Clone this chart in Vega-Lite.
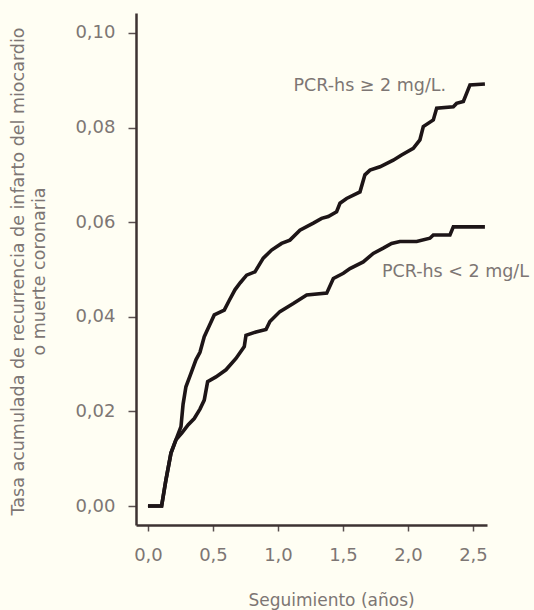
{
  "$schema": "https://vega.github.io/schema/vega-lite/v6.json",
  "description": "Tasa acumulada de recurrencia segun PCR-hs",
  "width": 351,
  "height": 512,
  "autosize": {"type": "none"},
  "padding": {"left": 136, "top": 13, "right": 47, "bottom": 85},
  "background": "#FFFEF3",
  "datasets": {
    "curvas": [
      {"grupo": "alto", "t": 0.0, "tasa": 0.0},
      {"grupo": "alto", "t": 0.105, "tasa": 0.0},
      {"grupo": "alto", "t": 0.138, "tasa": 0.0055},
      {"grupo": "alto", "t": 0.177, "tasa": 0.0112},
      {"grupo": "alto", "t": 0.215, "tasa": 0.014},
      {"grupo": "alto", "t": 0.254, "tasa": 0.0168},
      {"grupo": "alto", "t": 0.27, "tasa": 0.0215},
      {"grupo": "alto", "t": 0.292, "tasa": 0.0252},
      {"grupo": "alto", "t": 0.33, "tasa": 0.028},
      {"grupo": "alto", "t": 0.369, "tasa": 0.0309},
      {"grupo": "alto", "t": 0.4, "tasa": 0.0325},
      {"grupo": "alto", "t": 0.433, "tasa": 0.0358},
      {"grupo": "alto", "t": 0.47, "tasa": 0.038},
      {"grupo": "alto", "t": 0.51, "tasa": 0.0404},
      {"grupo": "alto", "t": 0.587, "tasa": 0.0414},
      {"grupo": "alto", "t": 0.626, "tasa": 0.0435},
      {"grupo": "alto", "t": 0.669, "tasa": 0.0457},
      {"grupo": "alto", "t": 0.71, "tasa": 0.0472},
      {"grupo": "alto", "t": 0.759, "tasa": 0.0488},
      {"grupo": "alto", "t": 0.823, "tasa": 0.0495},
      {"grupo": "alto", "t": 0.887, "tasa": 0.0524},
      {"grupo": "alto", "t": 0.951, "tasa": 0.0541},
      {"grupo": "alto", "t": 1.028, "tasa": 0.0555},
      {"grupo": "alto", "t": 1.092, "tasa": 0.0562},
      {"grupo": "alto", "t": 1.169, "tasa": 0.0583},
      {"grupo": "alto", "t": 1.272, "tasa": 0.0598},
      {"grupo": "alto", "t": 1.336, "tasa": 0.0608},
      {"grupo": "alto", "t": 1.387, "tasa": 0.0612},
      {"grupo": "alto", "t": 1.451, "tasa": 0.0622},
      {"grupo": "alto", "t": 1.477, "tasa": 0.064},
      {"grupo": "alto", "t": 1.528, "tasa": 0.065},
      {"grupo": "alto", "t": 1.631, "tasa": 0.0664},
      {"grupo": "alto", "t": 1.669, "tasa": 0.07},
      {"grupo": "alto", "t": 1.708, "tasa": 0.071},
      {"grupo": "alto", "t": 1.785, "tasa": 0.0717},
      {"grupo": "alto", "t": 1.887, "tasa": 0.0731},
      {"grupo": "alto", "t": 1.951, "tasa": 0.0742},
      {"grupo": "alto", "t": 2.041, "tasa": 0.0756},
      {"grupo": "alto", "t": 2.092, "tasa": 0.0774},
      {"grupo": "alto", "t": 2.118, "tasa": 0.0802},
      {"grupo": "alto", "t": 2.195, "tasa": 0.0816},
      {"grupo": "alto", "t": 2.221, "tasa": 0.0841},
      {"grupo": "alto", "t": 2.349, "tasa": 0.0844},
      {"grupo": "alto", "t": 2.374, "tasa": 0.0851},
      {"grupo": "alto", "t": 2.426, "tasa": 0.0855},
      {"grupo": "alto", "t": 2.451, "tasa": 0.0872},
      {"grupo": "alto", "t": 2.477, "tasa": 0.089},
      {"grupo": "alto", "t": 2.592, "tasa": 0.0892},
      {"grupo": "bajo", "t": 0.0, "tasa": 0.0},
      {"grupo": "bajo", "t": 0.105, "tasa": 0.0},
      {"grupo": "bajo", "t": 0.138, "tasa": 0.0055},
      {"grupo": "bajo", "t": 0.177, "tasa": 0.0112},
      {"grupo": "bajo", "t": 0.215, "tasa": 0.014},
      {"grupo": "bajo", "t": 0.26, "tasa": 0.0154},
      {"grupo": "bajo", "t": 0.31, "tasa": 0.0172},
      {"grupo": "bajo", "t": 0.356, "tasa": 0.0185},
      {"grupo": "bajo", "t": 0.4, "tasa": 0.0205},
      {"grupo": "bajo", "t": 0.433, "tasa": 0.0224},
      {"grupo": "bajo", "t": 0.459, "tasa": 0.0263},
      {"grupo": "bajo", "t": 0.523, "tasa": 0.0273},
      {"grupo": "bajo", "t": 0.6, "tasa": 0.0288},
      {"grupo": "bajo", "t": 0.677, "tasa": 0.0312},
      {"grupo": "bajo", "t": 0.741, "tasa": 0.0337},
      {"grupo": "bajo", "t": 0.754, "tasa": 0.0361},
      {"grupo": "bajo", "t": 0.831, "tasa": 0.0368},
      {"grupo": "bajo", "t": 0.908, "tasa": 0.0373},
      {"grupo": "bajo", "t": 0.938, "tasa": 0.039},
      {"grupo": "bajo", "t": 1.015, "tasa": 0.0411},
      {"grupo": "bajo", "t": 1.118, "tasa": 0.0428},
      {"grupo": "bajo", "t": 1.221, "tasa": 0.0446},
      {"grupo": "bajo", "t": 1.375, "tasa": 0.045},
      {"grupo": "bajo", "t": 1.426, "tasa": 0.0481},
      {"grupo": "bajo", "t": 1.503, "tasa": 0.0492},
      {"grupo": "bajo", "t": 1.554, "tasa": 0.0502},
      {"grupo": "bajo", "t": 1.656, "tasa": 0.0516},
      {"grupo": "bajo", "t": 1.733, "tasa": 0.0534},
      {"grupo": "bajo", "t": 1.81, "tasa": 0.0545},
      {"grupo": "bajo", "t": 1.874, "tasa": 0.0555},
      {"grupo": "bajo", "t": 1.938, "tasa": 0.0559},
      {"grupo": "bajo", "t": 2.067, "tasa": 0.0559},
      {"grupo": "bajo", "t": 2.169, "tasa": 0.0566},
      {"grupo": "bajo", "t": 2.195, "tasa": 0.0573},
      {"grupo": "bajo", "t": 2.323, "tasa": 0.0573},
      {"grupo": "bajo", "t": 2.349, "tasa": 0.059},
      {"grupo": "bajo", "t": 2.592, "tasa": 0.059}
    ],
    "etiquetas": [
      {"texto": "PCR-hs ≥ 2 mg/L.", "t": 1.12, "tasa": 0.0888},
      {"texto": "PCR-hs < 2 mg/L", "t": 1.8, "tasa": 0.0494}
    ]
  },
  "encoding": {
    "x": {
      "field": "t",
      "type": "quantitative",
      "scale": {"domain": [-0.092, 2.608], "nice": false, "zero": false},
      "axis": {
        "title": "Seguimiento (años)",
        "values": [0, 0.5, 1, 1.5, 2, 2.5],
        "labelExpr": "replace(format(datum.value, '.1f'), '.', ',')",
        "tickSize": 6,
        "labelPadding": 15,
        "titleX": 195,
        "titleY": 75,
        "titleAlign": "center",
        "titleBaseline": "middle"
      }
    },
    "y": {
      "field": "tasa",
      "type": "quantitative",
      "scale": {"domain": [-0.004, 0.1042], "nice": false, "zero": false},
      "axis": {
        "title": ["Tasa acumulada de recurrencia de infarto del miocardio", "o muerte coronaria"],
        "values": [0, 0.02, 0.04, 0.06, 0.08, 0.1],
        "labelExpr": "replace(format(datum.value, '.2f'), '.', ',')",
        "tickSize": 8,
        "labelPadding": 13,
        "titleX": -118,
        "titleY": 258,
        "titleAlign": "center",
        "titleBaseline": "middle",
        "titleLineHeight": 21,
        "titleFontSize": 17.5
      }
    }
  },
  "layer": [
    {
      "data": {"name": "curvas"},
      "mark": {"type": "line", "strokeWidth": 3.6, "strokeJoin": "miter", "color": "#1d1517"},
      "encoding": {
        "detail": {"field": "grupo", "type": "nominal"}
      }
    },
    {
      "data": {"name": "etiquetas"},
      "mark": {"type": "text", "align": "left", "baseline": "middle", "font": "DejaVu Sans", "fontSize": 17.5, "color": "#7d7674"},
      "encoding": {
        "text": {"field": "texto", "type": "nominal"}
      }
    }
  ],
  "config": {
    "view": {"stroke": null},
    "axis": {
      "grid": false,
      "domainColor": "#3d3232",
      "domainWidth": 2.5,
      "tickColor": "#5a5050",
      "tickWidth": 1.5,
      "labelFont": "DejaVu Sans",
      "labelFontSize": 18,
      "labelColor": "#7d7674",
      "titleFont": "DejaVu Sans",
      "titleFontSize": 17,
      "titleFontWeight": "normal",
      "titleColor": "#7d7674"
    }
  }
}
